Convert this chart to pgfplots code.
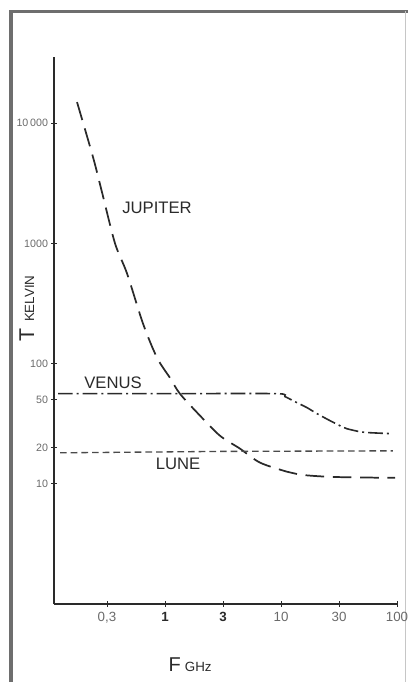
\documentclass[border=0pt]{standalone}
\usepackage{pgfplots}
\pgfplotsset{compat=1.18}
\usepackage{fontspec}
\setmainfont{Liberation Sans}
\definecolor{ink}{HTML}{2A2A2A}
\definecolor{lightink}{HTML}{6A6A6A}
\definecolor{frame}{HTML}{6E6E6E}
\begin{document}
\begin{tikzpicture}[x=1pt,y=1pt]
\path[use as bounding box] (0,0) rectangle (306,511.5);
\draw[frame, line width=2.6pt] (8.4,0) -- (8.4,502.9) -- (306,502.9);
\draw[gray!45, line width=0.8pt] (304.2,502.9) -- (304.2,0);
\begin{axis}[
  at={(40.5pt,58.5pt)}, anchor=south west,
  scale only axis, width=257.25pt, height=410.25pt,
  ymode=log, log basis y=10,
  xmin=0.086, xmax=6.0, ymin=1, ymax=35500,
  axis lines=left, axis line style={-, ink, line width=0.8pt},
  xtick={1,2,3,4,5,6},
  xticklabels={{\color{lightink}0,3},{\bfseries 1},{\bfseries 3},{\color{lightink}10},{\color{lightink}30},{\color{lightink}100}},
  ytick={10,20,50,100,1000,10000},
  yticklabels={10,20,50,100,1000,10\,000},
  tick align=center, major tick length=4pt,
  tick style={ink, line width=0.6pt},
  minor tick num=0, minor tick length=0pt,
  /pgf/number format/assume math mode=true,
  xticklabel style={font=\fontsize{10}{11}\selectfont, text=ink, yshift=-1pt},
  yticklabel style={font=\fontsize{8}{9}\selectfont, text=lightink, xshift=1pt},
  clip=false,
]
% Jupiter
\addplot[ink, line width=1.3pt, dash pattern=on 14pt off 6.5pt, smooth, tension=0.5] coordinates {
 (0.483,14960) (0.759,5210) (0.914,2660) (1.138,1000) (1.345,562)
 (1.621,215) (1.862,112) (2.086,76) (2.259,56) (2.603,36.9)
 (2.948,25.1) (3.293,19.6) (3.638,15.0) (4.103,12.6) (4.328,11.9)
 (4.897,11.4) (5.966,11.2)};
% Venus
\addplot[ink, line width=1.2pt, dash pattern=on 11pt off 3pt on 1.5pt off 3pt, smooth, tension=0.4] coordinates {
 (0.155,56.2) (2.0,56.2) (3.93,56.2) (4.069,53.1) (4.241,48.2) (4.448,43)
 (4.621,38.3) (4.845,33.5) (5.017,30.4) (5.138,28.7) (5.362,27.1) (5.534,26.6) (5.914,26.1)};
% Lune
\addplot[ink!85, line width=1.0pt, dash pattern=on 5pt off 3pt] coordinates {
 (0.19,18.1) (3.0,18.6) (5.93,18.8)};
\node[font=\fontsize{12.5}{14}\selectfont, text=ink] at (axis cs:1.862,1958) {JUPITER};
\node[font=\fontsize{12.5}{14}\selectfont, text=ink] at (axis cs:1.103,69.5) {VENUS};
\node[font=\fontsize{12.5}{14}\selectfont, text=ink] at (axis cs:2.224,14.7) {LUNE};
\node[rotate=90, text=ink] at (rel axis cs:-0.079,0.54) {{\fontsize{16}{18}\selectfont T}\hspace{5pt}{\fontsize{10}{11}\selectfont KELVIN}};
\node[text=ink] at (rel axis cs:0.397,-0.111) {{\fontsize{15}{16}\selectfont F}\hspace{3pt}{\fontsize{10}{11}\selectfont GHz}};
\end{axis}
\end{tikzpicture}
\end{document}
